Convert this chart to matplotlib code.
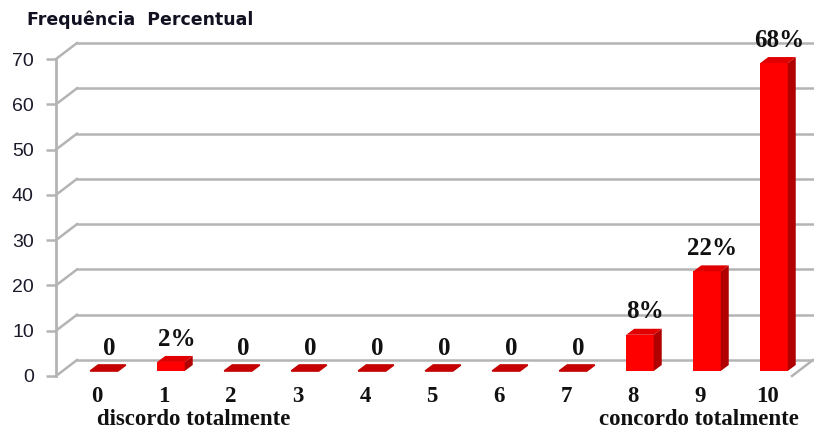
import numpy as np
import matplotlib.pyplot as plt
from matplotlib.patches import Polygon

categories = ['0', '1', '2', '3', '4', '5', '6', '7', '8', '9', '10']
values = [0, 2, 0, 0, 0, 0, 0, 0, 8, 22, 68]
value_labels = ['0', '2%', '0', '0', '0', '0', '0', '0', '8%', '22%', '68%']
y_ticks = [0, 10, 20, 30, 40, 50, 60, 70]

W, H = 814, 434
fig = plt.figure(figsize=(W / 100, H / 100), dpi=100)
fig.patch.set_facecolor('white')

# front plane of the 3d box, in pixels
left_px, right_px, bottom_px, top_px = 56, 792, 376, 59
ax = fig.add_axes([left_px / W, (H - bottom_px) / H,
                   (right_px - left_px) / W, (bottom_px - top_px) / H])
ax.patch.set_alpha(0)

px_per_cat = 67.0
xmin = -(97 - left_px) / px_per_cat
xmax = xmin + (right_px - left_px) / px_per_cat
ymax = 70
ax.set_xlim(xmin, xmax)
ax.set_ylim(0, ymax)

ux = 1 / px_per_cat                      # data units per pixel, x
uy = ymax / (bottom_px - top_px)         # data units per pixel, y

# depth of the walls and of the bars (pixels -> data)
DX, DY = 21 * ux, 16 * uy
ox, oy = 7 * ux, 5 * uy
bx, by = 8 * ux, 6 * uy

grid_c = '#b4b4b4'
for t in y_ticks:
    ax.plot([xmin + DX, xmax + DX], [t + DY, t + DY], color=grid_c, lw=1.8,
            clip_on=False, zorder=1)
    ax.plot([xmin, xmin + DX], [t, t + DY], color=grid_c, lw=1.8,
            clip_on=False, zorder=1)
ax.plot([xmax, xmax + DX], [0, DY], color=grid_c, lw=1.8, clip_on=False, zorder=1)

x = np.arange(len(categories))
w = 0.41
ax.bar(x + ox, values, width=w, bottom=oy, color='#ff0000', zorder=3,
       clip_on=False)
for xi, v in zip(x, values):
    xl = xi + ox - w / 2
    xr = xi + ox + w / 2
    side = Polygon([(xr, oy), (xr + bx, oy + by), (xr + bx, oy + v + by), (xr, oy + v)],
                   closed=True, facecolor='#b00000', edgecolor='none', zorder=3,
                   clip_on=False)
    top_c = '#e00000' if v > 0 else '#c40000'
    top = Polygon([(xl, oy + v), (xr, oy + v), (xr + bx, oy + v + by), (xl + bx, oy + v + by)],
                  closed=True, facecolor=top_c, edgecolor=top_c if v == 0 else 'none',
                  lw=1.2, zorder=4, clip_on=False)
    ax.add_patch(side)
    ax.add_patch(top)

for xi, v, lab in zip(x, values, value_labels):
    ax.text(xi + ox + 0.08, oy + v + by + 1.2, lab, ha='center', va='bottom',
            family='Liberation Serif', fontweight='bold', fontsize=18,
            color='#111111', zorder=5, clip_on=False)

for s in ['top', 'right', 'bottom']:
    ax.spines[s].set_visible(False)
ax.spines['left'].set_color(grid_c)
ax.spines['left'].set_linewidth(2)

ax.set_yticks(y_ticks)
ax.set_yticklabels([str(t) for t in y_ticks], family='Liberation Sans',
                   fontsize=14, color='#1a1a2a')
ax.tick_params(axis='y', length=7, width=1.8, color=grid_c, pad=9)
ax.set_xticks(x)
ax.set_xticklabels(categories, family='Liberation Serif', fontweight='bold',
                   fontsize=16.5, color='#111111')
ax.tick_params(axis='x', length=0, pad=7)

ax.text(1.45, -9.6, 'discordo totalmente', ha='center', va='center',
        family='Liberation Serif', fontweight='bold', fontsize=16.5, color='#111111',
        clip_on=False)
ax.text(8.98, -9.6, 'concordo totalmente', ha='center', va='center',
        family='Liberation Serif', fontweight='bold', fontsize=16.5, color='#111111',
        clip_on=False)

fig.text(27 / W, 1 - 20 / H, 'Frequência  Percentual', ha='left', va='center',
         family='DejaVu Sans', fontweight='bold', fontsize=12.5, color='#111122')

fig.savefig('out.png', dpi=100)
